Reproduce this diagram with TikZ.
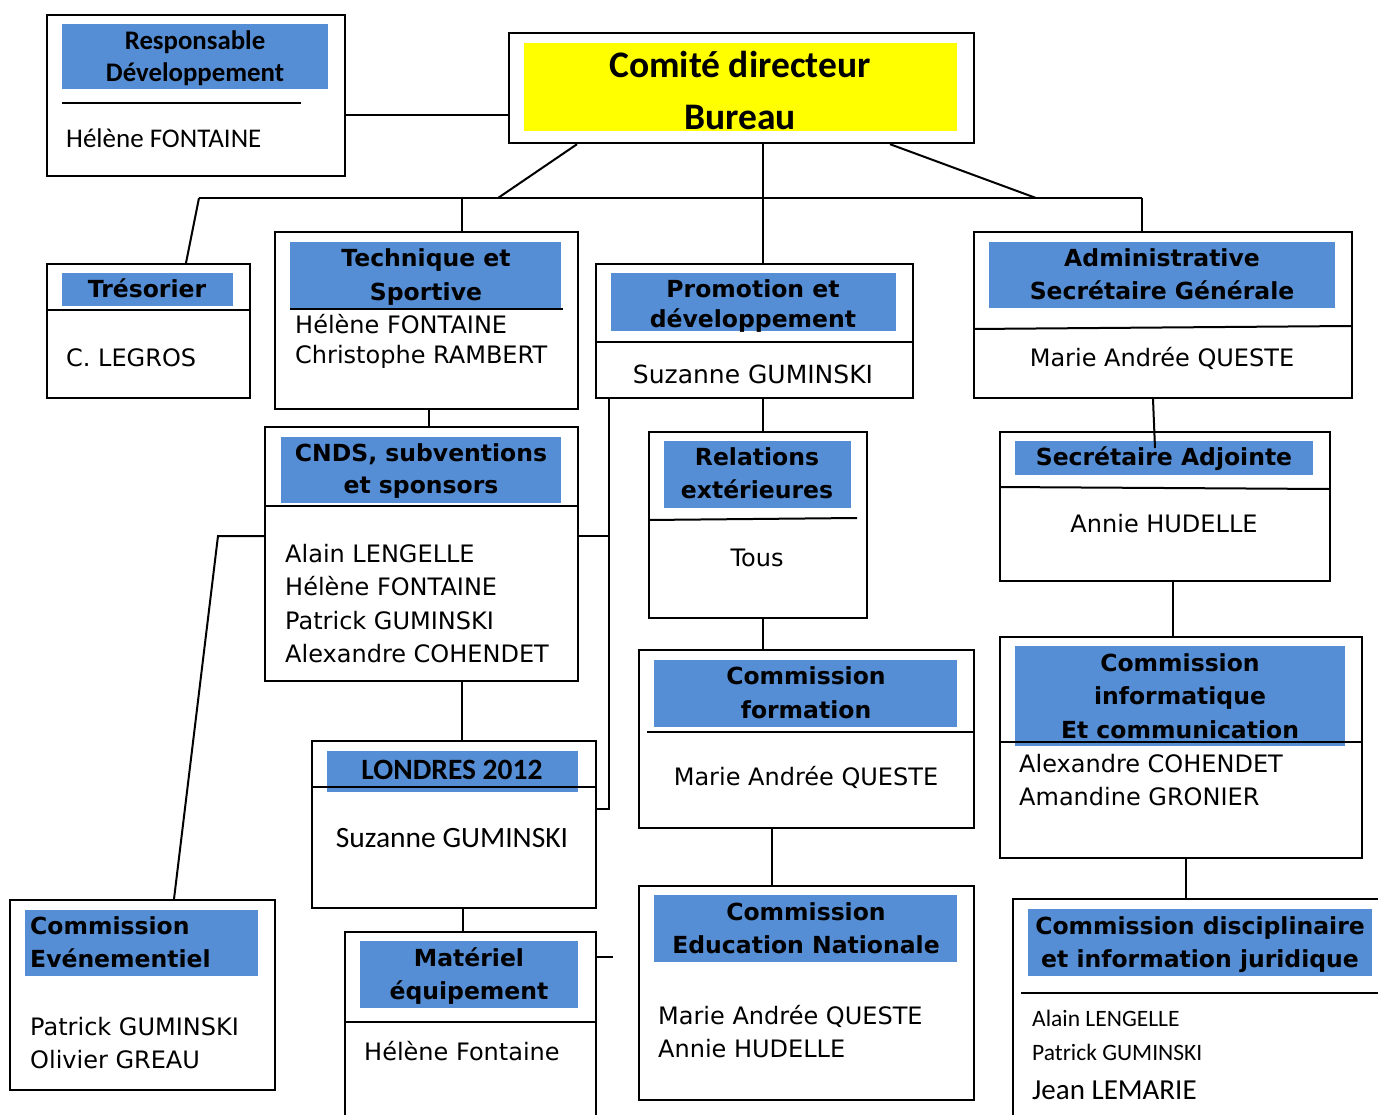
\documentclass[tikz,border=0pt]{standalone}
\usepackage{fontspec}
\setmainfont{DejaVu Sans}
\newfontfamily\carl{Carlito}
\definecolor{hblue}{RGB}{85,142,213}
\definecolor{hyel}{RGB}{255,255,0}
\begin{document}
\begin{tikzpicture}[x=1pt,y=-1pt,
  box/.style={draw=black,line width=2.2pt,anchor=north west,inner sep=0pt,fill=white},
  hdr/.style={fill=hblue,draw=none,anchor=north west,inner sep=0pt},
  ydr/.style={fill=hyel,draw=none,anchor=north west,inner sep=0pt},
  div/.style={line width=2pt},
  conn/.style={line width=2pt},
  t/.style={inner sep=0pt,anchor=base},
  tl/.style={inner sep=0pt,anchor=base west},
  hb/.style={t,font=\bfseries\fontsize{23.5}{28}\selectfont},
  hbl/.style={tl,font=\bfseries\fontsize{23.5}{28}\selectfont},
  nm/.style={tl,font=\fontsize{24}{29}\selectfont},
  nmc/.style={t,font=\fontsize{24}{29}\selectfont},
]
\useasboundingbox (0,0) rectangle (1378,1115);
\clip (0,0) rectangle (1378,1115);
\fill[white] (0,0) rectangle (1378,1115);

% ---------- boxes ----------
\node[box,minimum width=298,minimum height=161] (resp) at (46,14) {};
\node[hdr,minimum width=266,minimum height=65] (resp-h) at (62,24) {};
\draw[div] (62,103) -- (301,103);

\node[box,minimum width=465,minimum height=110] (comite) at (508,32) {};
\node[ydr,minimum width=433,minimum height=88] (comite-h) at (524,43) {};

\node[box,minimum width=203,minimum height=134] (tres) at (46,263) {};
\node[hdr,minimum width=171,minimum height=33] (tres-h) at (62,273) {};
\draw[div] (46,310) -- (249,310);

\node[box,minimum width=303,minimum height=177] (tech) at (274,231) {};
\node[hdr,minimum width=271,minimum height=67] (tech-h) at (290,242) {};
\draw[div] (290,309) -- (563,309);

\node[box,minimum width=317,minimum height=134] (promo) at (595,263) {};
\node[hdr,minimum width=285,minimum height=58] (promo-h) at (611,273) {};
\draw[div] (595,342) -- (912,342);

\node[box,minimum width=378,minimum height=166] (admin) at (973,231) {};
\node[hdr,minimum width=346,minimum height=66] (admin-h) at (989,242) {};
\draw[div] (973,329) -- (1351,326);

\node[box,minimum width=313,minimum height=254] (cnds) at (264,426) {};
\node[hdr,minimum width=280,minimum height=66] (cnds-h) at (281,437) {};
\draw[div] (264,506) -- (577,506);

\node[box,minimum width=218,minimum height=186] (rel) at (648,431) {};
\node[hdr,minimum width=187,minimum height=67] (rel-h) at (664,441) {};
\draw[div] (648,520) -- (857,518);

\node[box,minimum width=330,minimum height=149] (secadj) at (999,431) {};
\node[hdr,minimum width=298,minimum height=34] (secadj-h) at (1015,441) {};
\draw[div] (999,487) -- (1329,489);

\node[box,minimum width=362,minimum height=221] (info) at (999,636) {};
\node[hdr,minimum width=330,minimum height=100] (info-h) at (1015,646) {};
\draw[div] (999,742) -- (1361,742);

\node[box,minimum width=284,minimum height=167] (londres) at (311,740) {};
\node[hdr,minimum width=251,minimum height=41] (londres-h) at (327,751) {};
\draw[div] (311,787) -- (595,787);

\node[box,minimum width=335,minimum height=178] (form) at (638,649) {};
\node[hdr,minimum width=303,minimum height=67] (form-h) at (654,660) {};
\draw[div] (647,732) -- (973,732);

\node[box,minimum width=335,minimum height=214] (edu) at (638,885) {};
\node[hdr,minimum width=303,minimum height=67] (edu-h) at (654,895) {};

\node[box,minimum width=265,minimum height=190] (even) at (9,899) {};
\node[hdr,minimum width=233,minimum height=66] (even-h) at (25,910) {};

\node[box,minimum width=251,minimum height=220] (mat) at (344,931) {};
\node[hdr,minimum width=218,minimum height=67] (mat-h) at (360,941) {};
\draw[div] (344,1022) -- (595,1022);

\node[box,minimum width=390,minimum height=240] (disc) at (1012,898) {};
\node[hdr,minimum width=344,minimum height=67] (disc-h) at (1028,909) {};
\draw[div] (1021,993) -- (1378,993);

% ---------- connectors ----------
\coordinate (bl) at (199,198);
\coordinate (br) at (1142,198);
\coordinate (j1) at (498,198);
\coordinate (j2) at (1036,198);
\coordinate (jt) at (462,198);
\coordinate (cl) at (218,536);
\coordinate (bx) at (609,809);
\coordinate (bc) at (609,536);
\coordinate (sa) at (1155,448);

\draw[conn] (resp.east |- 0,115) -- (comite.west |- 0,115);
\draw[conn] (comite.south -| 577,0) -- (j1);
\draw[conn] (comite.south -| 763,0) -- (promo.north -| 763,0);
\draw[conn] (comite.south -| 890,0) -- (j2);
\draw[conn] (bl) -- (br);
\draw[conn] (bl) -- (tres.north -| 186,0);
\draw[conn] (jt) -- (tech.north -| jt);
\draw[conn] (br) -- (admin.north -| br);
\draw[conn] (tech.south -| 429,0) -- (cnds.north -| 429,0);
\draw[conn] (promo.south -| 763,0) -- (rel.north -| 763,0);
\draw[conn] (promo.south -| 609,0) -- (bx) -- (londres.east |- bx);
\draw[conn] (cnds.east |- bc) -- (bc);
\draw[conn] (cnds.west |- cl) -- (cl) -- (even.north -| 174,0);
\draw[conn] (cnds.south -| 462,0) -- (londres.north -| 462,0);
\draw[conn] (admin.south -| 1153,0) -- (sa);
\draw[conn] (rel.south -| 763,0) -- (form.north -| 763,0);
\draw[conn] (form.south -| 772,0) -- (edu.north -| 772,0);
\draw[conn] (secadj.south -| 1173,0) -- (info.north -| 1173,0);
\draw[conn] (info.south -| 1186,0) -- (disc.north -| 1186,0);
\draw[conn] (londres.south -| 463,0) -- (mat.north -| 463,0);
\draw[conn] (mat.east |- 0,957) -- ++(16,0);

% ---------- texts ----------
\node[t,font=\carl\bfseries\fontsize{26.8}{30}\selectfont] (resp-t1) at (195,50) {Responsable};
\node[t,font=\carl\bfseries\fontsize{26.8}{30}\selectfont] (resp-t2) at (195,82) {Développement};
\node[tl,font=\carl\fontsize{27}{30}\selectfont] (resp-t3) at (66,148) {Hélène FONTAINE};

\node[t,font=\carl\bfseries\fontsize{37.5}{44}\selectfont] (comite-t1) at (740,78) {Comité directeur};
\node[t,font=\carl\bfseries\fontsize{37.5}{44}\selectfont] (comite-t2) at (740,130) {Bureau};

\node[hb] (tres-t1) at (147,298) {Trésorier};
\node[nm] (tres-t2) at (66,366) {C. LEGROS};

\node[hb] (tech-t1) at (426,267) {Technique et};
\node[hb] (tech-t2) at (426,300) {Sportive};
\node[nm] (tech-t3) at (295,333) {Hélène FONTAINE};
\node[nm] (tech-t4) at (295,363) {Christophe RAMBERT};

\node[hb] (promo-t1) at (753,298) {Promotion et};
\node[hb] (promo-t2) at (753,327) {développement};
\node[t,font=\fontsize{25}{29}\selectfont] (promo-t3) at (753,383) {Suzanne GUMINSKI};

\node[hb] (admin-t1) at (1162,266) {Administrative};
\node[hb] (admin-t2) at (1162,299) {Secrétaire Générale};
\node[nmc] (admin-t3) at (1162,366) {Marie Andrée QUESTE};

\node[hb] (cnds-t1) at (421,461) {CNDS, subventions};
\node[hb] (cnds-t2) at (421,493) {et sponsors};
\node[nm] (cnds-t3) at (285,562) {Alain LENGELLE};
\node[nm] (cnds-t4) at (285,595) {Hélène FONTAINE};
\node[nm] (cnds-t5) at (285,629) {Patrick GUMINSKI};
\node[nm] (cnds-t6) at (285,662) {Alexandre COHENDET};

\node[hb] (rel-t1) at (757,465) {Relations};
\node[hb] (rel-t2) at (757,498) {extérieures};
\node[nmc] (rel-t3) at (757,566) {Tous};

\node[hb] (secadj-t1) at (1164,465) {Secrétaire Adjointe};
\node[nmc] (secadj-t2) at (1164,532) {Annie HUDELLE};

\node[hb] (info-t1) at (1180,671) {Commission};
\node[hb] (info-t2) at (1180,704) {informatique};
\node[hb] (info-t3) at (1180,738) {Et communication};
\node[nm] (info-t4) at (1019,772) {Alexandre COHENDET};
\node[nm] (info-t5) at (1019,805) {Amandine GRONIER};

\node[t,font=\carl\bfseries\fontsize{29.5}{32}\selectfont] (londres-t1) at (452,779) {LONDRES 2012};
\node[t,font=\carl\fontsize{29.5}{32}\selectfont] (londres-t2) at (452,847) {Suzanne GUMINSKI};

\node[hb] (form-t1) at (806,684) {Commission};
\node[hb] (form-t2) at (806,718) {formation};
\node[nmc] (form-t3) at (806,785) {Marie Andrée QUESTE};

\node[hb] (edu-t1) at (806,920) {Commission};
\node[hb] (edu-t2) at (806,953) {Education Nationale};
\node[nm] (edu-t3) at (658,1024) {Marie Andrée QUESTE};
\node[nm] (edu-t4) at (658,1057) {Annie HUDELLE};

\node[hbl] (even-t1) at (30,934) {Commission};
\node[hbl] (even-t2) at (30,967) {Evénementiel};
\node[nm] (even-t3) at (30,1035) {Patrick GUMINSKI};
\node[nm] (even-t4) at (30,1068) {Olivier GREAU};

\node[hb] (mat-t1) at (469,966) {Matériel};
\node[hb] (mat-t2) at (469,999) {équipement};
\node[nm] (mat-t3) at (364,1060) {Hélène Fontaine};

\node[hb] (disc-t1) at (1200,934) {Commission disciplinaire};
\node[hb] (disc-t2) at (1200,967) {et information juridique};
\node[tl,font=\carl\fontsize{23.5}{28}\selectfont] (disc-t3) at (1032,1026) {Alain LENGELLE};
\node[tl,font=\carl\fontsize{23.5}{28}\selectfont] (disc-t4) at (1032,1060) {Patrick GUMINSKI};
\node[tl,font=\carl\fontsize{29}{34}\selectfont] (disc-t5) at (1032,1099) {Jean LEMARIE};
\end{tikzpicture}
\end{document}
